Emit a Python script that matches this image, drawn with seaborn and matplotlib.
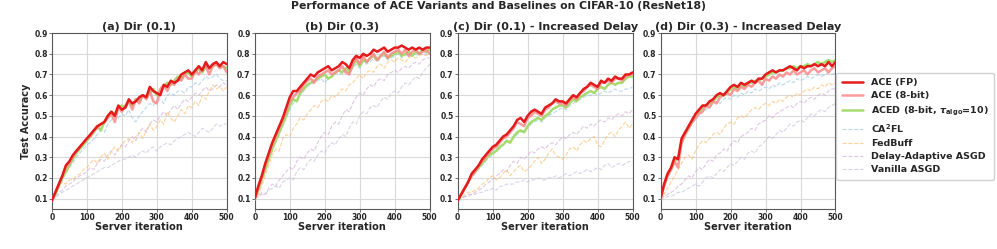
import numpy as np
import pandas as pd
import seaborn as sns
import matplotlib.pyplot as plt

# server iterations (every 10)
iters = list(range(0, 510, 10))

panel_titles = ['(a) Dir (0.1)', '(b) Dir (0.3)',
                '(c) Dir (0.1) - Increased Delay', '(d) Dir (0.3) - Increased Delay']

methods = ['ACE (FP)', 'ACE (8-bit)', r'ACED (8-bit, $\tau_{\mathrm{algo}}$=10)',
           r'CA$^2$FL', 'FedBuff', 'Delay-Adaptive ASGD', 'Vanilla ASGD']

# ---- (a) Dir (0.1)
a_ace_fp = [0.09, 0.13, 0.17, 0.21, 0.26, 0.28, 0.31, 0.33, 0.35, 0.37, 0.39, 0.41, 0.43, 0.45, 0.46, 0.47, 0.50,
            0.52, 0.50, 0.55, 0.53, 0.54, 0.58, 0.56, 0.57, 0.59, 0.60, 0.59, 0.64, 0.62, 0.61, 0.60, 0.65, 0.64,
            0.67, 0.66, 0.67, 0.70, 0.71, 0.72, 0.70, 0.72, 0.74, 0.72, 0.76, 0.73, 0.75, 0.76, 0.74, 0.76, 0.75]
a_ace_8b = [0.09, 0.13, 0.17, 0.21, 0.25, 0.27, 0.30, 0.33, 0.35, 0.37, 0.39, 0.40, 0.43, 0.44, 0.46, 0.47, 0.49,
            0.51, 0.47, 0.54, 0.52, 0.55, 0.57, 0.53, 0.58, 0.56, 0.60, 0.58, 0.62, 0.57, 0.56, 0.63, 0.65, 0.62,
            0.66, 0.65, 0.68, 0.67, 0.70, 0.68, 0.68, 0.72, 0.70, 0.73, 0.74, 0.70, 0.74, 0.75, 0.73, 0.74, 0.71]
a_aced = [0.09, 0.12, 0.16, 0.20, 0.23, 0.26, 0.29, 0.32, 0.34, 0.36, 0.38, 0.40, 0.42, 0.45, 0.43, 0.47, 0.50,
          0.52, 0.51, 0.54, 0.55, 0.54, 0.57, 0.55, 0.58, 0.57, 0.60, 0.59, 0.61, 0.63, 0.60, 0.62, 0.64, 0.66,
          0.65, 0.67, 0.69, 0.68, 0.70, 0.71, 0.69, 0.71, 0.73, 0.71, 0.74, 0.73, 0.74, 0.75, 0.74, 0.74, 0.73]
a_ca2fl = [0.10, 0.13, 0.16, 0.19, 0.22, 0.25, 0.27, 0.30, 0.32, 0.34, 0.36, 0.37, 0.39, 0.41, 0.43, 0.42, 0.46,
           0.48, 0.50, 0.49, 0.51, 0.50, 0.53, 0.49, 0.47, 0.50, 0.52, 0.54, 0.56, 0.55, 0.57, 0.58, 0.56, 0.60,
           0.61, 0.60, 0.62, 0.62, 0.61, 0.64, 0.64, 0.66, 0.65, 0.67, 0.69, 0.68, 0.69, 0.70, 0.68, 0.67, 0.67]
a_fedbuff = [0.09, 0.13, 0.16, 0.18, 0.17, 0.19, 0.19, 0.21, 0.22, 0.24, 0.25, 0.27, 0.29, 0.27, 0.30, 0.32, 0.29,
             0.33, 0.35, 0.33, 0.36, 0.38, 0.39, 0.37, 0.40, 0.42, 0.39, 0.43, 0.46, 0.43, 0.45, 0.48, 0.46, 0.52,
             0.49, 0.47, 0.50, 0.53, 0.51, 0.55, 0.54, 0.57, 0.55, 0.60, 0.58, 0.62, 0.65, 0.63, 0.64, 0.62, 0.64]
a_delay = [0.09, 0.11, 0.13, 0.14, 0.16, 0.17, 0.18, 0.20, 0.21, 0.22, 0.23, 0.25, 0.24, 0.27, 0.29, 0.28, 0.31,
           0.33, 0.31, 0.34, 0.36, 0.35, 0.38, 0.40, 0.38, 0.42, 0.44, 0.42, 0.46, 0.48, 0.47, 0.50, 0.52, 0.50,
           0.53, 0.55, 0.53, 0.56, 0.58, 0.57, 0.59, 0.61, 0.60, 0.62, 0.64, 0.62, 0.63, 0.65, 0.64, 0.66, 0.65]
a_vanilla = [0.09, 0.10, 0.12, 0.13, 0.14, 0.15, 0.16, 0.17, 0.18, 0.19, 0.20, 0.21, 0.22, 0.23, 0.24, 0.25, 0.25,
             0.26, 0.27, 0.28, 0.29, 0.29, 0.30, 0.31, 0.30, 0.32, 0.33, 0.32, 0.34, 0.35, 0.33, 0.35, 0.36, 0.37,
             0.36, 0.38, 0.39, 0.40, 0.41, 0.42, 0.41, 0.40, 0.42, 0.44, 0.43, 0.42, 0.44, 0.46, 0.45, 0.46, 0.46]

# ---- (b) Dir (0.3)
b_ace_fp = [0.10, 0.16, 0.21, 0.27, 0.32, 0.37, 0.41, 0.45, 0.49, 0.54, 0.59, 0.62, 0.62, 0.64, 0.66, 0.68, 0.70,
            0.69, 0.71, 0.72, 0.73, 0.74, 0.72, 0.73, 0.74, 0.76, 0.75, 0.73, 0.77, 0.79, 0.78, 0.80, 0.79, 0.80,
            0.82, 0.81, 0.82, 0.83, 0.81, 0.82, 0.83, 0.83, 0.84, 0.83, 0.82, 0.83, 0.82, 0.83, 0.82, 0.83, 0.83]
b_ace_8b = [0.10, 0.15, 0.20, 0.26, 0.31, 0.36, 0.40, 0.44, 0.48, 0.52, 0.57, 0.59, 0.61, 0.62, 0.65, 0.67, 0.68,
            0.66, 0.69, 0.70, 0.71, 0.72, 0.70, 0.71, 0.72, 0.74, 0.71, 0.70, 0.75, 0.78, 0.75, 0.79, 0.76, 0.78,
            0.80, 0.77, 0.79, 0.81, 0.78, 0.80, 0.81, 0.82, 0.80, 0.82, 0.79, 0.81, 0.82, 0.80, 0.81, 0.82, 0.80]
b_aced = [0.10, 0.14, 0.19, 0.24, 0.29, 0.34, 0.38, 0.42, 0.46, 0.50, 0.55, 0.58, 0.57, 0.61, 0.63, 0.65, 0.66,
          0.67, 0.68, 0.69, 0.70, 0.68, 0.69, 0.71, 0.72, 0.71, 0.73, 0.71, 0.74, 0.77, 0.74, 0.77, 0.76, 0.78,
          0.79, 0.77, 0.79, 0.80, 0.78, 0.79, 0.80, 0.81, 0.79, 0.80, 0.81, 0.79, 0.81, 0.80, 0.82, 0.81, 0.82]
b_ca2fl = [0.10, 0.14, 0.19, 0.24, 0.29, 0.33, 0.37, 0.41, 0.45, 0.49, 0.53, 0.56, 0.57, 0.60, 0.62, 0.64, 0.65,
           0.66, 0.67, 0.68, 0.66, 0.68, 0.69, 0.70, 0.71, 0.70, 0.72, 0.70, 0.73, 0.75, 0.73, 0.76, 0.75, 0.76,
           0.78, 0.76, 0.78, 0.79, 0.77, 0.78, 0.79, 0.80, 0.78, 0.79, 0.80, 0.79, 0.80, 0.79, 0.81, 0.80, 0.81]
b_fedbuff = [0.09, 0.12, 0.16, 0.21, 0.26, 0.31, 0.34, 0.33, 0.39, 0.41, 0.40, 0.44, 0.46, 0.49, 0.48, 0.51, 0.53,
             0.55, 0.54, 0.57, 0.58, 0.57, 0.60, 0.59, 0.61, 0.63, 0.62, 0.65, 0.66, 0.68, 0.70, 0.68, 0.71, 0.72,
             0.71, 0.74, 0.75, 0.73, 0.76, 0.77, 0.76, 0.78, 0.77, 0.76, 0.78, 0.79, 0.78, 0.79, 0.80, 0.79, 0.80]
b_delay = [0.10, 0.11, 0.13, 0.12, 0.15, 0.17, 0.16, 0.19, 0.21, 0.23, 0.25, 0.24, 0.28, 0.30, 0.29, 0.32, 0.34,
           0.33, 0.37, 0.40, 0.42, 0.41, 0.45, 0.47, 0.46, 0.50, 0.53, 0.52, 0.56, 0.59, 0.61, 0.60, 0.63, 0.65,
           0.64, 0.67, 0.68, 0.67, 0.70, 0.71, 0.72, 0.71, 0.73, 0.74, 0.73, 0.75, 0.76, 0.75, 0.77, 0.78, 0.78]
b_vanilla = [0.10, 0.11, 0.12, 0.12, 0.14, 0.15, 0.16, 0.15, 0.18, 0.19, 0.20, 0.19, 0.23, 0.25, 0.24, 0.27, 0.29,
             0.28, 0.31, 0.33, 0.32, 0.35, 0.37, 0.36, 0.39, 0.41, 0.40, 0.44, 0.47, 0.46, 0.50, 0.52, 0.51, 0.54,
             0.55, 0.54, 0.57, 0.59, 0.58, 0.61, 0.62, 0.61, 0.64, 0.66, 0.65, 0.67, 0.69, 0.68, 0.71, 0.73, 0.75]

# ---- (c) Dir (0.1) - Increased Delay
c_ace_fp = [0.09, 0.12, 0.15, 0.18, 0.22, 0.24, 0.26, 0.29, 0.31, 0.33, 0.35, 0.36, 0.38, 0.40, 0.41, 0.43, 0.45,
            0.48, 0.49, 0.47, 0.50, 0.52, 0.53, 0.52, 0.51, 0.54, 0.55, 0.56, 0.58, 0.57, 0.57, 0.56, 0.58, 0.60,
            0.59, 0.61, 0.63, 0.64, 0.66, 0.65, 0.64, 0.67, 0.66, 0.68, 0.67, 0.69, 0.68, 0.68, 0.70, 0.70, 0.71]
c_ace_8b = [0.09, 0.12, 0.15, 0.18, 0.21, 0.23, 0.26, 0.28, 0.30, 0.32, 0.34, 0.35, 0.37, 0.39, 0.40, 0.42, 0.44,
            0.47, 0.46, 0.45, 0.49, 0.50, 0.52, 0.51, 0.50, 0.53, 0.54, 0.56, 0.57, 0.56, 0.56, 0.55, 0.58, 0.59,
            0.58, 0.61, 0.62, 0.64, 0.65, 0.64, 0.63, 0.66, 0.66, 0.67, 0.66, 0.68, 0.68, 0.67, 0.69, 0.70, 0.70]
c_aced = [0.09, 0.12, 0.15, 0.18, 0.21, 0.23, 0.25, 0.27, 0.29, 0.31, 0.32, 0.33, 0.35, 0.36, 0.38, 0.37, 0.40,
          0.42, 0.43, 0.42, 0.45, 0.47, 0.48, 0.49, 0.48, 0.50, 0.51, 0.53, 0.54, 0.55, 0.55, 0.54, 0.56, 0.58,
          0.57, 0.59, 0.60, 0.61, 0.62, 0.61, 0.63, 0.64, 0.63, 0.65, 0.66, 0.65, 0.66, 0.66, 0.68, 0.69, 0.69]
c_ca2fl = [0.09, 0.12, 0.14, 0.17, 0.20, 0.22, 0.24, 0.26, 0.28, 0.30, 0.31, 0.33, 0.34, 0.36, 0.37, 0.38, 0.39,
           0.41, 0.42, 0.43, 0.44, 0.46, 0.47, 0.48, 0.47, 0.49, 0.50, 0.51, 0.52, 0.53, 0.54, 0.53, 0.55, 0.56,
           0.57, 0.58, 0.59, 0.60, 0.60, 0.61, 0.60, 0.61, 0.62, 0.61, 0.62, 0.63, 0.62, 0.62, 0.63, 0.63, 0.64]
c_fedbuff = [0.09, 0.10, 0.12, 0.13, 0.13, 0.14, 0.15, 0.17, 0.18, 0.20, 0.21, 0.19, 0.20, 0.22, 0.24, 0.21, 0.23,
             0.25, 0.26, 0.23, 0.24, 0.26, 0.28, 0.30, 0.27, 0.29, 0.32, 0.34, 0.31, 0.30, 0.29, 0.31, 0.34, 0.35,
             0.33, 0.36, 0.38, 0.37, 0.39, 0.40, 0.36, 0.35, 0.38, 0.41, 0.42, 0.40, 0.43, 0.45, 0.47, 0.44, 0.46]
c_delay = [0.09, 0.10, 0.11, 0.12, 0.12, 0.13, 0.14, 0.15, 0.17, 0.18, 0.19, 0.21, 0.22, 0.24, 0.23, 0.26, 0.28,
           0.27, 0.30, 0.29, 0.31, 0.33, 0.32, 0.34, 0.35, 0.34, 0.36, 0.37, 0.36, 0.38, 0.40, 0.39, 0.41, 0.42,
           0.41, 0.43, 0.45, 0.44, 0.46, 0.45, 0.47, 0.48, 0.47, 0.49, 0.48, 0.50, 0.51, 0.50, 0.52, 0.51, 0.53]
c_vanilla = [0.09, 0.10, 0.11, 0.11, 0.12, 0.12, 0.13, 0.13, 0.14, 0.14, 0.15, 0.14, 0.16, 0.16, 0.17, 0.17, 0.17,
             0.18, 0.18, 0.19, 0.18, 0.19, 0.19, 0.20, 0.19, 0.19, 0.20, 0.20, 0.21, 0.20, 0.21, 0.22, 0.21, 0.22,
             0.23, 0.22, 0.23, 0.24, 0.23, 0.24, 0.25, 0.24, 0.26, 0.27, 0.25, 0.26, 0.27, 0.26, 0.27, 0.28, 0.28]

# ---- (d) Dir (0.3) - Increased Delay
d_ace_fp = [0.10, 0.17, 0.22, 0.25, 0.30, 0.29, 0.39, 0.42, 0.45, 0.48, 0.51, 0.53, 0.55, 0.55, 0.57, 0.58, 0.60,
            0.61, 0.60, 0.62, 0.64, 0.65, 0.64, 0.66, 0.65, 0.66, 0.67, 0.66, 0.68, 0.68, 0.70, 0.71, 0.72, 0.71,
            0.72, 0.72, 0.73, 0.74, 0.73, 0.72, 0.74, 0.73, 0.74, 0.74, 0.75, 0.74, 0.75, 0.74, 0.76, 0.74, 0.76]
d_ace_8b = [0.10, 0.16, 0.21, 0.24, 0.28, 0.25, 0.37, 0.41, 0.44, 0.47, 0.49, 0.51, 0.52, 0.55, 0.54, 0.57, 0.56,
            0.59, 0.60, 0.61, 0.60, 0.63, 0.62, 0.64, 0.63, 0.65, 0.64, 0.66, 0.67, 0.65, 0.68, 0.67, 0.69, 0.68,
            0.70, 0.69, 0.71, 0.70, 0.72, 0.70, 0.71, 0.72, 0.70, 0.72, 0.73, 0.71, 0.72, 0.73, 0.71, 0.73, 0.74]
d_aced = [0.10, 0.16, 0.21, 0.24, 0.28, 0.30, 0.37, 0.41, 0.44, 0.47, 0.50, 0.52, 0.54, 0.55, 0.56, 0.57, 0.59,
          0.60, 0.60, 0.61, 0.63, 0.64, 0.63, 0.65, 0.64, 0.66, 0.66, 0.67, 0.67, 0.68, 0.69, 0.70, 0.71, 0.71,
          0.72, 0.72, 0.73, 0.73, 0.74, 0.73, 0.74, 0.74, 0.75, 0.74, 0.75, 0.76, 0.75, 0.76, 0.77, 0.76, 0.77]
d_ca2fl = [0.10, 0.16, 0.20, 0.23, 0.27, 0.30, 0.36, 0.40, 0.43, 0.46, 0.48, 0.50, 0.52, 0.53, 0.54, 0.56, 0.57,
           0.56, 0.58, 0.59, 0.58, 0.60, 0.59, 0.61, 0.60, 0.62, 0.61, 0.63, 0.62, 0.63, 0.64, 0.63, 0.65, 0.64,
           0.66, 0.65, 0.66, 0.67, 0.66, 0.68, 0.67, 0.68, 0.69, 0.68, 0.69, 0.70, 0.69, 0.70, 0.71, 0.70, 0.71]
d_fedbuff = [0.09, 0.12, 0.15, 0.18, 0.21, 0.24, 0.27, 0.30, 0.31, 0.29, 0.33, 0.36, 0.38, 0.37, 0.39, 0.41, 0.42,
             0.41, 0.44, 0.46, 0.47, 0.46, 0.49, 0.50, 0.49, 0.51, 0.53, 0.54, 0.53, 0.55, 0.56, 0.55, 0.57, 0.56,
             0.58, 0.57, 0.59, 0.60, 0.59, 0.61, 0.60, 0.62, 0.63, 0.62, 0.64, 0.63, 0.65, 0.64, 0.66, 0.65, 0.66]
d_delay = [0.10, 0.11, 0.12, 0.13, 0.14, 0.16, 0.17, 0.19, 0.21, 0.20, 0.23, 0.25, 0.24, 0.27, 0.29, 0.28, 0.31,
           0.32, 0.34, 0.33, 0.36, 0.38, 0.37, 0.40, 0.41, 0.42, 0.44, 0.43, 0.46, 0.47, 0.48, 0.50, 0.49, 0.51,
           0.52, 0.53, 0.54, 0.55, 0.54, 0.56, 0.57, 0.56, 0.58, 0.59, 0.58, 0.60, 0.61, 0.60, 0.62, 0.63, 0.63]
d_vanilla = [0.09, 0.10, 0.11, 0.11, 0.12, 0.13, 0.13, 0.14, 0.15, 0.16, 0.17, 0.16, 0.18, 0.20, 0.21, 0.20, 0.22,
             0.24, 0.23, 0.25, 0.27, 0.26, 0.28, 0.30, 0.29, 0.32, 0.33, 0.32, 0.35, 0.36, 0.38, 0.40, 0.39, 0.41,
             0.43, 0.42, 0.44, 0.46, 0.45, 0.47, 0.48, 0.47, 0.49, 0.51, 0.50, 0.52, 0.53, 0.52, 0.54, 0.55, 0.56]

panels = [
    [a_ace_fp, a_ace_8b, a_aced, a_ca2fl, a_fedbuff, a_delay, a_vanilla],
    [b_ace_fp, b_ace_8b, b_aced, b_ca2fl, b_fedbuff, b_delay, b_vanilla],
    [c_ace_fp, c_ace_8b, c_aced, c_ca2fl, c_fedbuff, c_delay, c_vanilla],
    [d_ace_fp, d_ace_8b, d_aced, d_ca2fl, d_fedbuff, d_delay, d_vanilla],
]

# line styles per method
colors = ['#e41a1c', '#fb8a8a', '#a6dc6e', '#9ecae1', '#fdbf6f', '#d4b0d8', '#c8c4dc']
widths = [1.8, 1.8, 1.8, 0.8, 0.8, 0.8, 0.8]
styles = ['-', '-', '-', '--', '--', '--', '--']
alphas = [1.0, 0.85, 1.0, 0.7, 0.7, 0.7, 0.7]
zorders = [7, 6, 5, 4, 3, 2, 1]

sns.set_theme(style='whitegrid')
plt.rcParams['font.family'] = ['DejaVu Sans']
plt.rcParams['font.weight'] = 'bold'
plt.rcParams['axes.edgecolor'] = '0.35'
plt.rcParams['grid.color'] = '0.85'
plt.rcParams['grid.linewidth'] = 0.8

fig, axes = plt.subplots(1, 4, figsize=(9.97, 2.49), dpi=100)
plt.subplots_adjust(left=0.052, right=0.838, bottom=0.161, top=0.867, wspace=0.16)

for p, ax in enumerate(axes):
    for m, name in enumerate(methods):
        df = pd.DataFrame({'iter': iters, 'acc': panels[p][m]})
        sns.lineplot(data=df, x='iter', y='acc', ax=ax, color=colors[m], lw=widths[m],
                     linestyle=styles[m], alpha=alphas[m], zorder=zorders[m], label=name)
    ax.set_xlim(0, 500)
    ax.set_ylim(0.05, 0.9)
    ax.set_xticks([0, 100, 200, 300, 400, 500])
    ax.set_yticks([0.1, 0.2, 0.3, 0.4, 0.5, 0.6, 0.7, 0.8, 0.9])
    ax.tick_params(labelsize=5.5, pad=1, length=2, width=0.6, bottom=True, left=True, color='0.35')
    for lbl in ax.get_xticklabels() + ax.get_yticklabels():
        lbl.set_fontweight('bold')
    ax.set_title(panel_titles[p], fontsize=8, fontweight='bold', pad=2)
    ax.set_xlabel('Server iteration', fontsize=7, fontweight='bold', labelpad=0)
    ax.set_ylabel('Test Accuracy' if p == 0 else '', fontsize=7, fontweight='bold', labelpad=2)
    for s in ax.spines.values():
        s.set_linewidth(0.8)
    if p < 3:
        ax.get_legend().remove()

axes[3].legend(loc='center left', bbox_to_anchor=(0.975, 0.47),
               prop={'weight': 'bold', 'size': 6.8}, frameon=True, handlelength=2.3,
               borderpad=0.6, labelspacing=0.45, framealpha=0.9)

fig.suptitle('Performance of ACE Variants and Baselines on CIFAR-10 (ResNet18)',
             fontsize=7.8, fontweight='bold', y=0.995)

plt.savefig('out.png', dpi=100)
